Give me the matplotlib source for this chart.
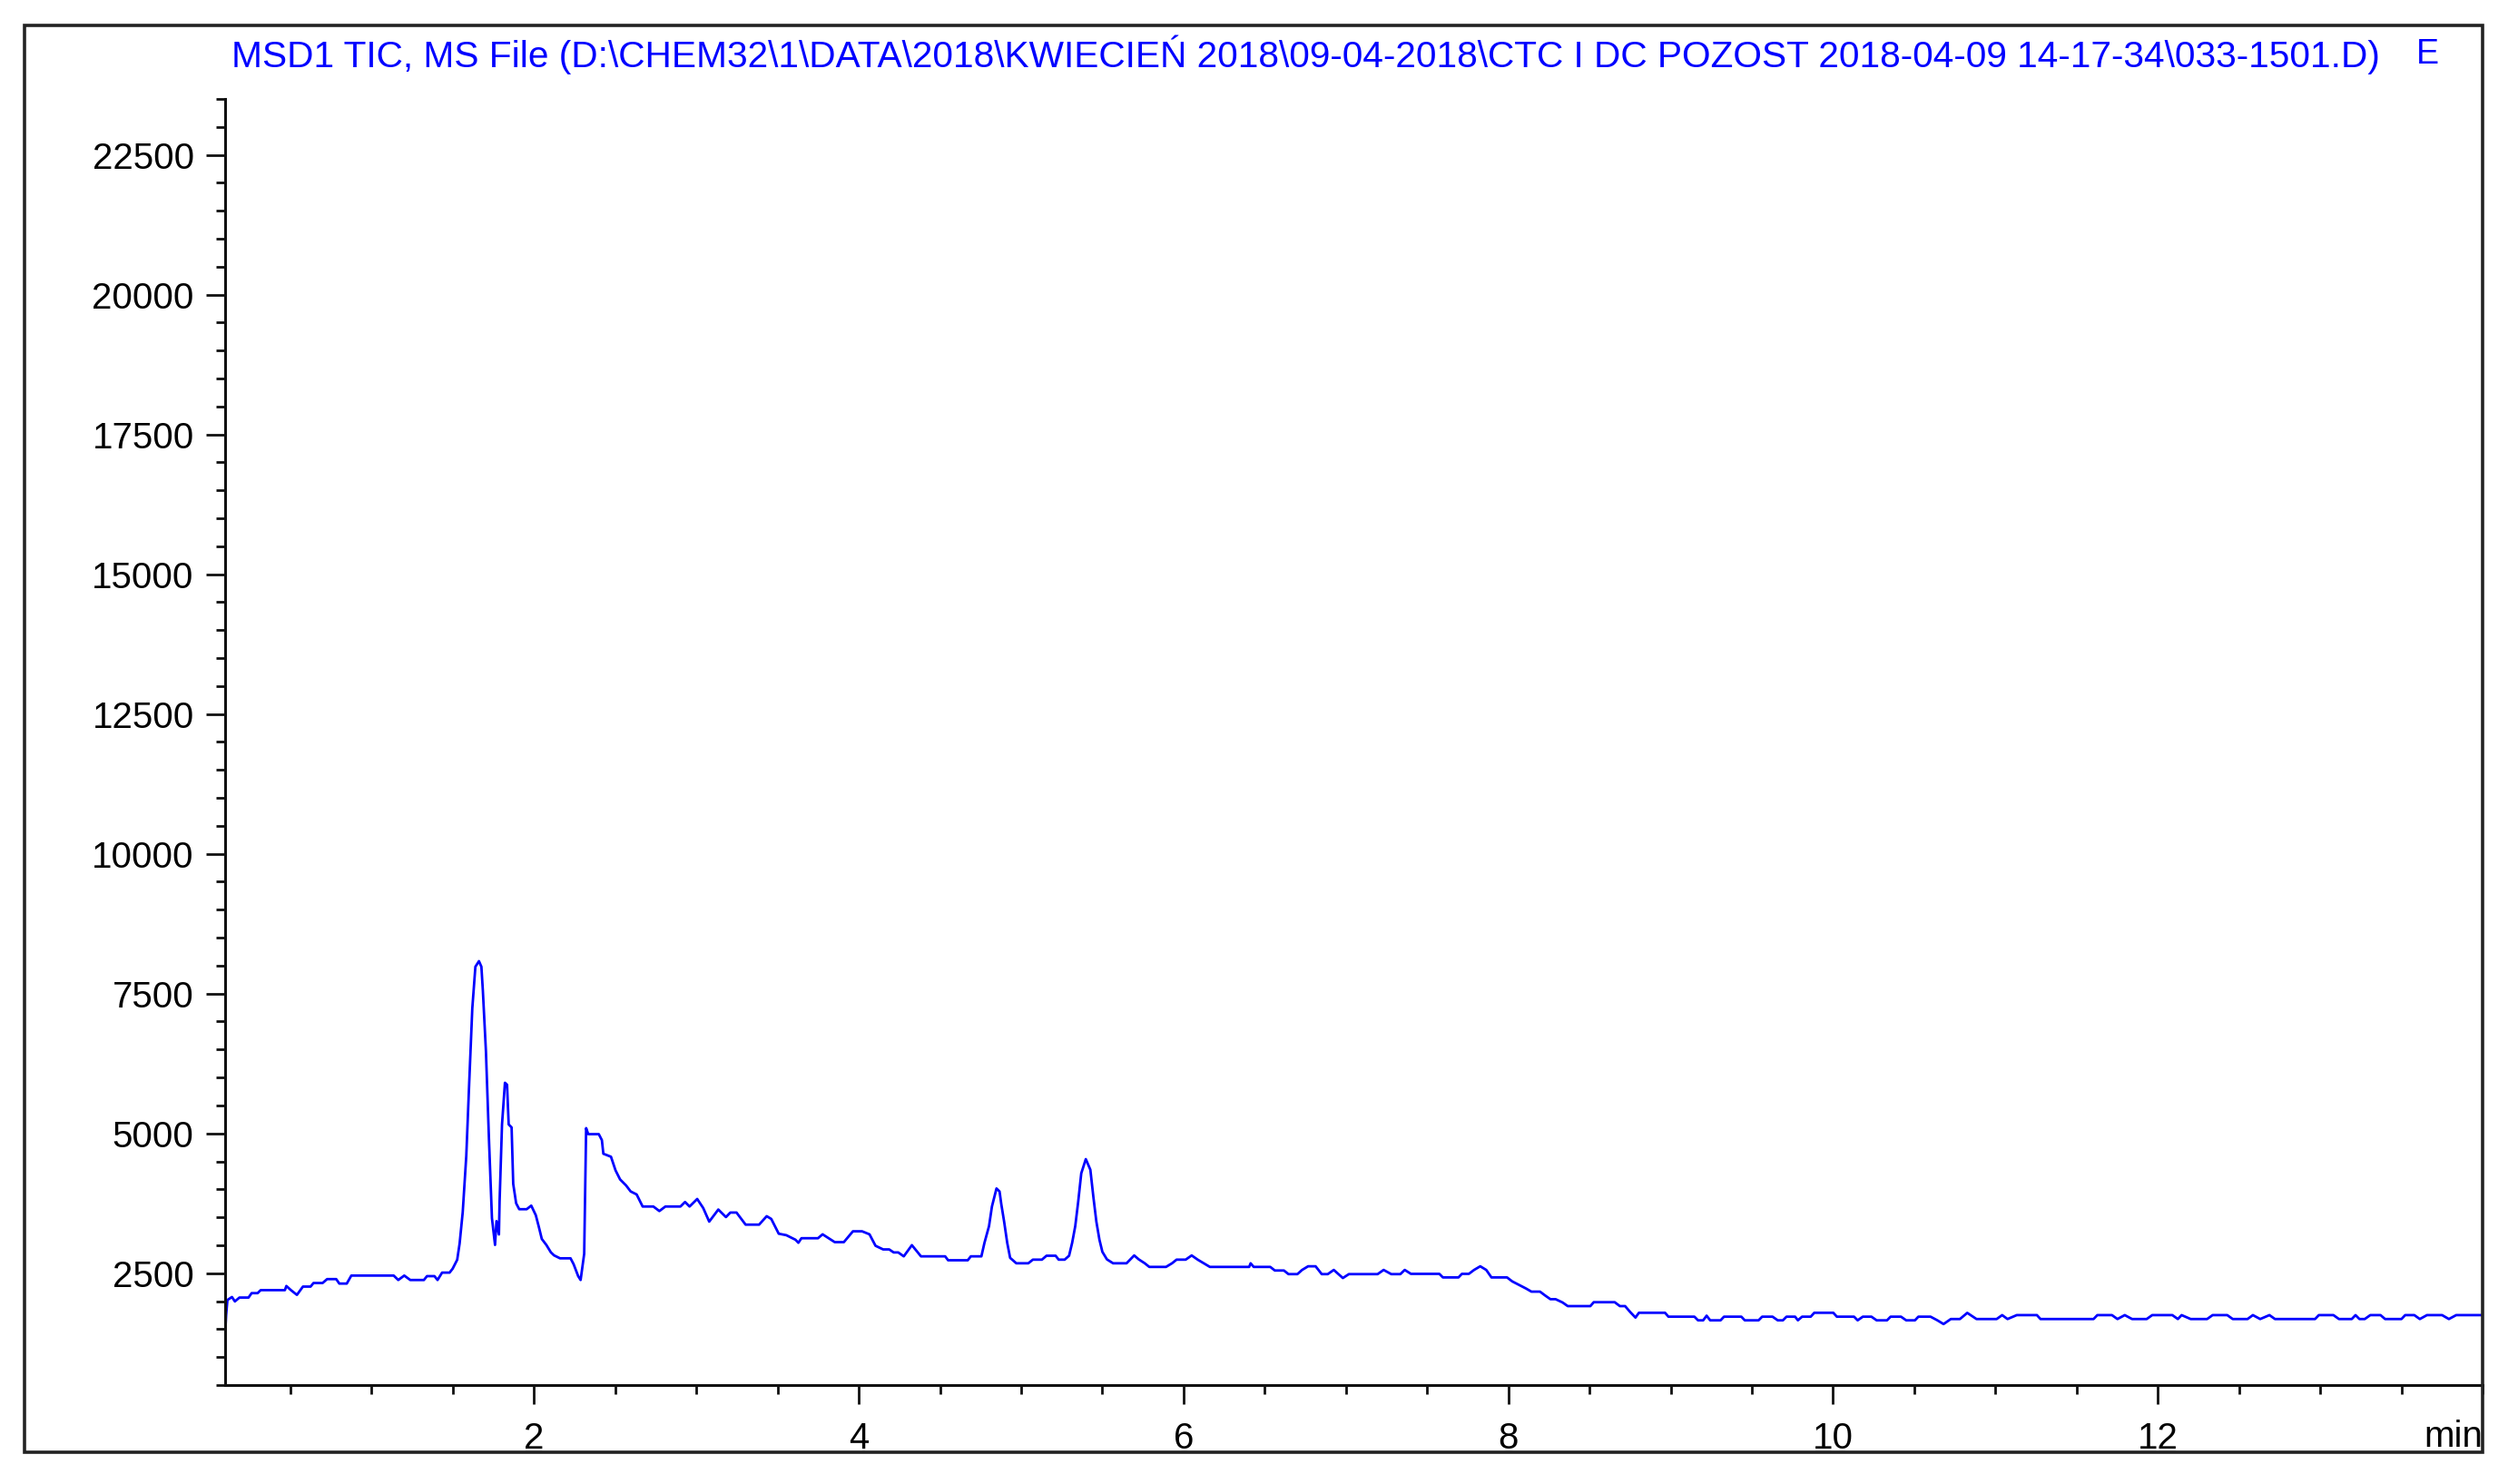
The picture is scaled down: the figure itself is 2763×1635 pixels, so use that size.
import matplotlib
matplotlib.use("Agg")
import matplotlib.pyplot as plt
from matplotlib.patches import Rectangle
from matplotlib.ticker import MultipleLocator, FixedLocator
from matplotlib import font_manager

# TIC trace (time in min, abundance)
time_min = [
    0.100, 0.104, 0.112, 0.140, 0.158, 0.186, 0.242, 0.261, 0.298, 0.317, 0.466, 0.475,
    0.503, 0.540, 0.577, 0.624, 0.642, 0.698, 0.726, 0.782, 0.801, 0.847, 0.875, 1.136,
    1.164, 1.201, 1.238, 1.322, 1.341, 1.387, 1.406, 1.434, 1.480, 1.499, 1.527, 1.542,
    1.561, 1.583, 1.601, 1.620, 1.639, 1.661, 1.676, 1.685, 1.704, 1.723, 1.741, 1.760,
    1.769, 1.784, 1.788, 1.803, 1.821, 1.834, 1.844, 1.862, 1.872, 1.890, 1.909, 1.955,
    1.983, 2.011, 2.030, 2.048, 2.076, 2.104, 2.123, 2.160, 2.225, 2.244, 2.272, 2.287,
    2.309, 2.321, 2.334, 2.399, 2.418, 2.427, 2.474, 2.502, 2.530, 2.567, 2.595, 2.632,
    2.669, 2.735, 2.772, 2.809, 2.902, 2.930, 2.958, 3.005, 3.042, 3.079, 3.135, 3.182,
    3.209, 3.247, 3.303, 3.386, 3.433, 3.461, 3.507, 3.554, 3.610, 3.628, 3.647, 3.749,
    3.777, 3.815, 3.852, 3.908, 3.964, 4.020, 4.066, 4.103, 4.150, 4.187, 4.215, 4.243,
    4.277, 4.327, 4.383, 4.532, 4.550, 4.671, 4.690, 4.755, 4.774, 4.802, 4.820, 4.848,
    4.867, 4.877, 4.895, 4.914, 4.932, 4.970, 5.044, 5.072, 5.128, 5.156, 5.212, 5.231,
    5.268, 5.295, 5.314, 5.333, 5.351, 5.370, 5.398, 5.426, 5.445, 5.463, 5.482, 5.500,
    5.528, 5.566, 5.649, 5.696, 5.724, 5.761, 5.789, 5.892, 5.929, 5.957, 6.013, 6.050,
    6.087, 6.124, 6.162, 6.404, 6.413, 6.432, 6.534, 6.562, 6.618, 6.646, 6.701, 6.730,
    6.767, 6.813, 6.851, 6.888, 6.925, 6.981, 7.018, 7.195, 7.232, 7.279, 7.335, 7.362,
    7.400, 7.575, 7.597, 7.693, 7.714, 7.757, 7.789, 7.827, 7.864, 7.896, 7.992, 8.024,
    8.067, 8.110, 8.142, 8.195, 8.227, 8.259, 8.291, 8.334, 8.366, 8.505, 8.526, 8.655,
    8.687, 8.719, 8.751, 8.783, 8.804, 8.965, 8.986, 9.146, 9.168, 9.200, 9.221, 9.243,
    9.307, 9.328, 9.435, 9.456, 9.541, 9.563, 9.627, 9.659, 9.691, 9.713, 9.766, 9.783,
    9.809, 9.862, 9.884, 10.001, 10.023, 10.129, 10.151, 10.183, 10.236, 10.268, 10.332, 10.354,
    10.418, 10.450, 10.504, 10.525, 10.600, 10.642, 10.680, 10.725, 10.781, 10.826, 10.883, 11.007,
    11.041, 11.074, 11.131, 11.255, 11.277, 11.604, 11.627, 11.717, 11.751, 11.796, 11.841, 11.931,
    11.965, 12.089, 12.123, 12.146, 12.202, 12.303, 12.337, 12.427, 12.461, 12.552, 12.585, 12.630,
    12.687, 12.721, 12.968, 12.991, 13.081, 13.115, 13.194, 13.217, 13.241, 13.274, 13.308, 13.371,
    13.399, 13.500, 13.523, 13.579, 13.613, 13.657, 13.690, 13.750, 13.792, 13.837, 14.000,
]
abundance = [
    1520, 1750, 2020, 2074, 1995, 2064, 2064, 2143, 2143, 2197, 2197, 2271,
    2197, 2112, 2260, 2260, 2324, 2324, 2394, 2394, 2314, 2314, 2457, 2457,
    2378, 2457, 2378, 2378, 2447, 2447, 2378, 2510, 2510, 2580, 2740, 3032,
    3590, 4601, 5905, 7235, 7980, 8080, 7980, 7554, 6463, 4867, 3484, 3005,
    3431, 3192, 3777, 5160, 5905, 5870, 5160, 5107, 4096, 3750, 3644, 3644,
    3708, 3537, 3325, 3112, 3005, 2872, 2819, 2766, 2766, 2660, 2447, 2378,
    2846, 5094, 4986, 4986, 4879, 4636, 4582, 4339, 4177, 4069, 3962, 3908,
    3692, 3692, 3611, 3692, 3692, 3773, 3692, 3827, 3665, 3422, 3638, 3503,
    3584, 3584, 3368, 3368, 3519, 3470, 3206, 3179, 3098, 3044, 3125, 3125,
    3195, 3125, 3055, 3055, 3249, 3249, 3195, 2990, 2925, 2925, 2871, 2871,
    2801, 3001, 2801, 2801, 2731, 2731, 2801, 2801, 3044, 3341, 3692, 4015,
    3960, 3745, 3422, 3044, 2774, 2677, 2677, 2742, 2742, 2812, 2812, 2742,
    2742, 2812, 3044, 3341, 3773, 4285, 4540, 4350, 3854, 3422, 3098, 2882,
    2747, 2677, 2677, 2817, 2747, 2677, 2612, 2612, 2677, 2742, 2742, 2817,
    2742, 2677, 2612, 2612, 2677, 2612, 2612, 2548, 2548, 2483, 2483, 2558,
    2623, 2623, 2483, 2483, 2558, 2413, 2483, 2483, 2558, 2483, 2483, 2558,
    2488, 2488, 2424, 2424, 2488, 2488, 2558, 2623, 2558, 2424, 2424, 2353,
    2289, 2224, 2170, 2170, 2100, 2035, 2035, 1976, 1911, 1911, 1981, 1981,
    1911, 1911, 1803, 1706, 1792, 1792, 1722, 1722, 1657, 1657, 1740, 1657,
    1657, 1722, 1722, 1657, 1657, 1722, 1722, 1657, 1657, 1722, 1722, 1657,
    1722, 1722, 1792, 1792, 1722, 1722, 1657, 1722, 1722, 1657, 1657, 1722,
    1722, 1657, 1657, 1722, 1722, 1657, 1590, 1680, 1680, 1790, 1680, 1680,
    1750, 1680, 1750, 1750, 1680, 1680, 1750, 1750, 1680, 1750, 1680, 1680,
    1750, 1750, 1680, 1750, 1680, 1680, 1750, 1750, 1680, 1680, 1750, 1680,
    1750, 1680, 1680, 1750, 1750, 1680, 1680, 1750, 1680, 1680, 1750, 1750,
    1680, 1680, 1750, 1750, 1680, 1750, 1750, 1750, 1680, 1750, 1750,
]

y_ticks = [2500, 5000, 7500, 10000, 12500, 15000, 17500, 20000, 22500]
x_ticks = [2, 4, 6, 8, 10, 12]
title = ("MSD1 TIC, MS File (D:\\CHEM32\\1\\DATA\\2018\\KWIECIEŃ 2018\\09-04-2018\\"
         "CTC I DC POZOST 2018-04-09 14-17-34\\033-1501.D)")

installed = {f.name for f in font_manager.fontManager.ttflist}
narrow = "Liberation Sans Narrow" if "Liberation Sans Narrow" in installed else "Liberation Sans"
plt.rcParams["font.family"] = ["Liberation Sans", "DejaVu Sans"]

fig = plt.figure(figsize=(27.63, 16.35), dpi=100)
ax = fig.add_axes([0.0899, 0.0667, 0.9000, 0.8667])

ax.plot(time_min, abundance, color="#0000ff", lw=2.0)
ax.set_xlim(0.1, 14.0)
ax.set_ylim(500, 23500)

for s in ("top", "right"):
    ax.spines[s].set_visible(False)
for s in ("left", "bottom"):
    ax.spines[s].set_linewidth(2.2)
    ax.spines[s].set_color("#111")

ax.yaxis.set_major_locator(FixedLocator(y_ticks))
ax.yaxis.set_minor_locator(MultipleLocator(500))
ax.xaxis.set_major_locator(FixedLocator(x_ticks))
ax.xaxis.set_minor_locator(MultipleLocator(0.5))
ax.tick_params(which="major", length=15, width=2, color="#111", labelsize=29, pad=10)
ax.tick_params(which="minor", length=7, width=2, color="#111")
ax.tick_params(axis="x", which="major", pad=14)
ax.set_xticklabels([str(v) for v in x_ticks])
ax.set_yticklabels([str(v) for v in y_ticks])

ax.text(1.0, -0.040, "min", transform=ax.transAxes, ha="right", va="center", fontsize=29)

# outer frame
fig.patches.append(Rectangle((0.0098, 0.0214), 0.9800, 0.9615, transform=fig.transFigure,
                             fill=False, lw=2.6, ec="#222"))

# blue header, fitted to the width it takes in the original
t = fig.text(0.0923, 0.963, title, color="#0000ff", fontsize=27, family=narrow,
             ha="left", va="center")
fig.canvas.draw()
w = t.get_window_extent().width
t.set_fontsize(27 * 2365 / w)
fig.text(0.9635, 0.963, "E", color="#0000ff", fontsize=27, family=narrow,
         ha="left", va="center")

fig.savefig("out.png", dpi=100)
